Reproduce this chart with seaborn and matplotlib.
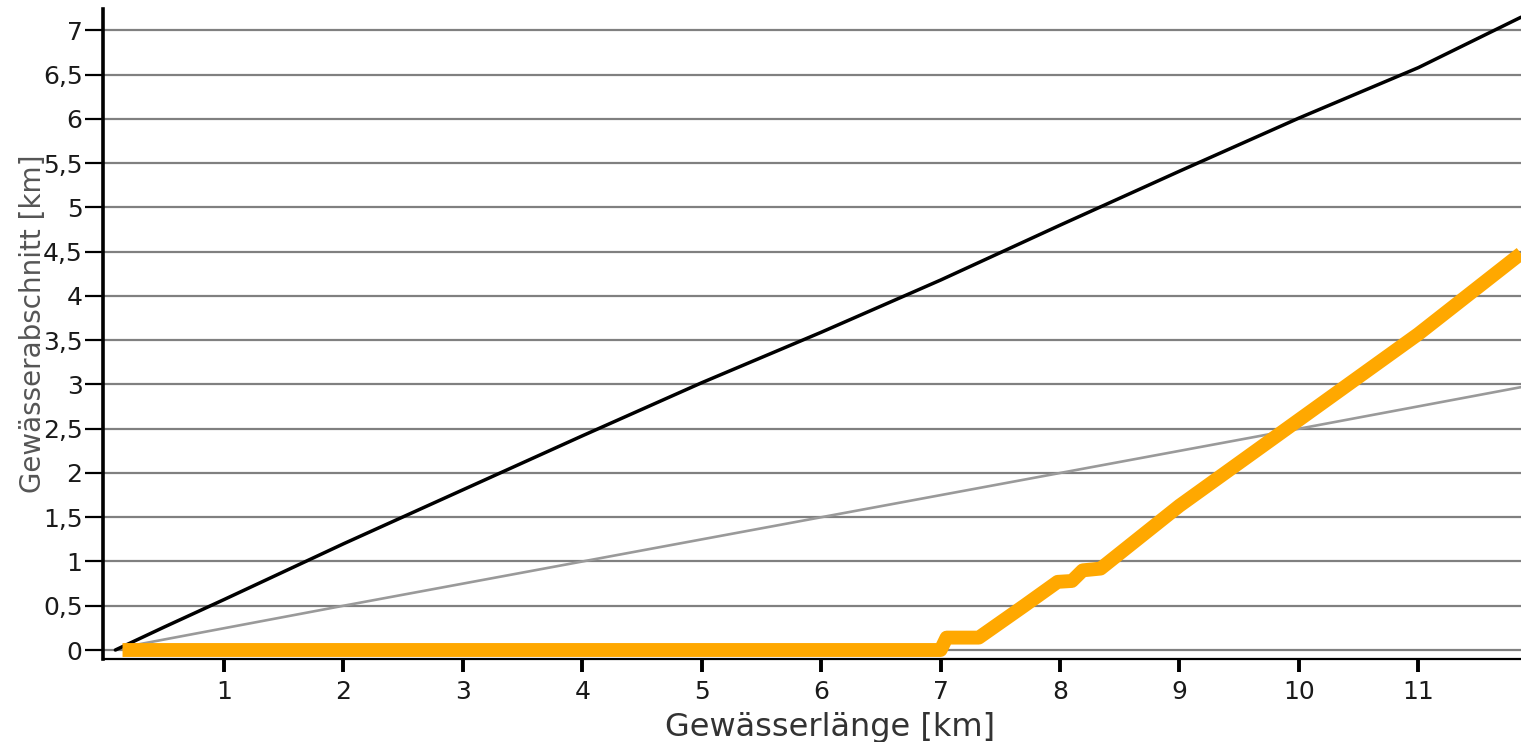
import matplotlib
matplotlib.use('Agg')
import matplotlib.pyplot as plt
import matplotlib.ticker as mticker
import seaborn as sns
import pandas as pd

sns.set_theme(style='white')
plt.rcParams['font.family'] = ['DejaVu Sans']

# black line (upper)
black_x = [0.09, 0.5, 1, 2, 3, 4, 5, 6, 7, 8, 9, 10, 11, 11.86]
black_y = [0.0, 0.26, 0.57, 1.2, 1.81, 2.42, 3.02, 3.59, 4.18, 4.8, 5.41, 6.01, 6.58, 7.15]

# grey line (middle)
grey_x = [0.15, 2, 4, 6, 8, 10, 11.86]
grey_y = [0.03, 0.5, 1.0, 1.5, 2.0, 2.5, 2.97]

# orange line
orange_x = [0.15, 7.0, 7.05, 7.32, 7.7, 7.98, 8.1, 8.19, 8.34, 9.0, 10.0, 11.0, 11.86]
orange_y = [0.0, 0.0, 0.14, 0.14, 0.5, 0.77, 0.78, 0.9, 0.92, 1.63, 2.6, 3.57, 4.48]

x_ticks = list(range(1, 12))
y_ticks = [i * 0.5 for i in range(15)]

fig = plt.figure(figsize=(15.21, 7.42), dpi=100)
ax = fig.add_axes([0.068, 0.1123, 0.932, 0.8756])

for yv in y_ticks:
    ax.axhline(yv, color='#808080', lw=1.6, zorder=1)

sns.lineplot(data=pd.DataFrame({'x': grey_x, 'y': grey_y}), x='x', y='y',
             color='#9a9a9a', lw=1.9, ax=ax, zorder=2)
sns.lineplot(data=pd.DataFrame({'x': black_x, 'y': black_y}), x='x', y='y',
             color='black', lw=2.5, ax=ax, zorder=3)
sns.lineplot(data=pd.DataFrame({'x': orange_x, 'y': orange_y}), x='x', y='y',
             color='#FFA800', lw=10, ax=ax, zorder=4, solid_capstyle='butt')

ax.set_xlim(-0.01, 11.86)
ax.set_ylim(-0.098, 7.243)
ax.set_xticks(x_ticks)
ax.set_yticks(y_ticks)
ax.yaxis.set_major_formatter(mticker.FuncFormatter(
    lambda v, p: ('%g' % v).replace('.', ',')))

ax.tick_params(axis='y', direction='out', length=13, width=1.6, pad=2,
               labelsize=18, labelcolor='#1a1a1a', left=True, color='black')
ax.tick_params(axis='x', direction='out', length=9, width=2.8, pad=6,
               labelsize=18, labelcolor='#1a1a1a', bottom=True, color='black')

for s in ['top', 'right']:
    ax.spines[s].set_visible(False)
ax.spines['left'].set_linewidth(2.6)
ax.spines['left'].set_color('black')
ax.spines['bottom'].set_linewidth(1.6)
ax.spines['bottom'].set_color('black')

ax.set_xlabel('Gewässerlänge [km]', fontsize=23, color='#333333')
ax.xaxis.set_label_coords(0.5125, -0.082)
ax.set_ylabel('Gewässerabschnitt [km]', fontsize=20, color='#555555')
ax.yaxis.set_label_coords(-0.040, 0.516)

fig.savefig('out.png', dpi=100)
